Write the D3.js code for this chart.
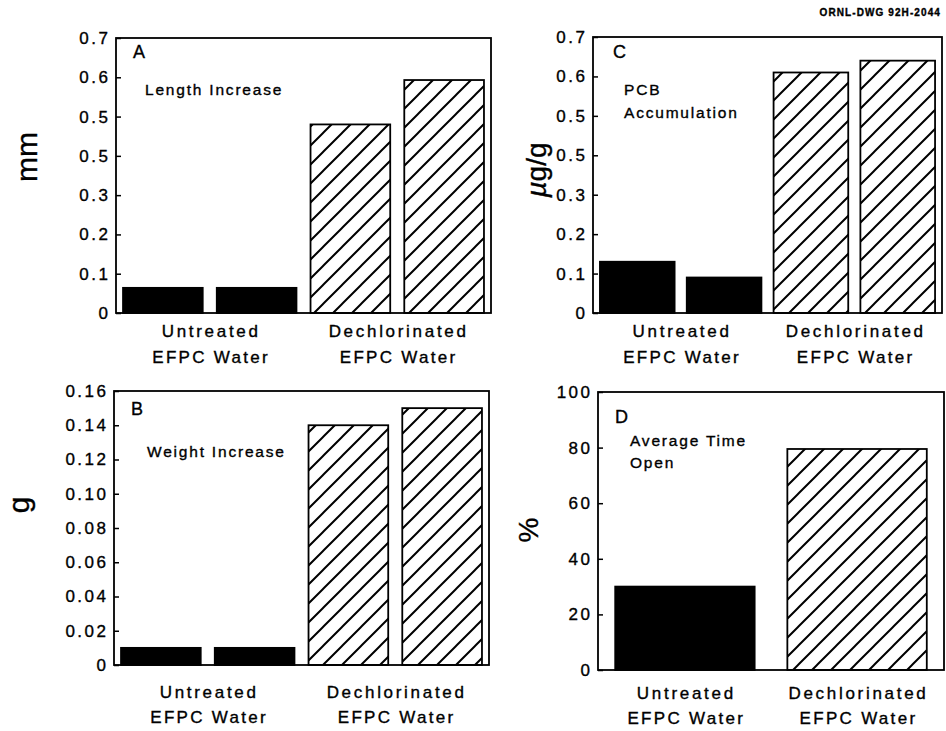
<!DOCTYPE html>
<html><head><meta charset="utf-8">
<script src="https://cdn.jsdelivr.net/npm/d3@7"></script>
<style>
body{margin:0;background:#fff}
svg{display:block}
text{font-family:"Liberation Sans",Arial,Helvetica,sans-serif;fill:#000;stroke:#000;stroke-width:0.35px}
</style>
</head><body>
<svg id="chart" width="946" height="731"></svg>
<script>
// ---------- data ----------
const groupNames = ["Untreated", "Dechlorinated"];
const groupSubLabel = "EFPC Water";
const barGroups4 = [0, 0, 1, 1];
const barGroups2 = [0, 1];
const lengthValues = [0.064, 0.064, 0.48, 0.593];
const weightValues = [0.01, 0.01, 0.14, 0.15];
const pcbValues = [0.13, 0.09, 0.61, 0.64];
const timeOpenValues = [30, 79.5];
const lengthTicks = [0, 0.1, 0.2, 0.3, 0.4, 0.5, 0.6, 0.7];
const lengthTickLabels = ["0", "0.1", "0.2", "0.3", "0.5", "0.5", "0.6", "0.7"];
const weightTicks = [0, 0.02, 0.04, 0.06, 0.08, 0.10, 0.12, 0.14, 0.16];
const weightTickLabels = ["0", "0.02", "0.04", "0.06", "0.08", "0.10", "0.12", "0.14", "0.16"];
const pcbTicks = [0, 0.1, 0.2, 0.3, 0.4, 0.5, 0.6, 0.7];
const pcbTickLabels = ["0", "0.1", "0.2", "0.3", "0.5", "0.5", "0.6", "0.7"];
const timeTicks = [0, 20, 40, 60, 80, 100];
const timeTickLabels = ["0", "20", "40", "60", "80", "100"];
const panelLetters = ["A", "B", "C", "D"];
const panelNotes = [["Length Increase"], ["Weight Increase"], ["PCB", "Accumulation"], ["Average Time", "Open"]];
const yTitles = ["mm", "g", "µg/g", "%"];
const drawingId = "ORNL-DWG 92H-2044";

// ---------- layout ----------
const svg = d3.select("#chart");
const defs = svg.append("defs");
const pat = defs.append("pattern").attr("id", "hatch")
  .attr("patternUnits", "userSpaceOnUse").attr("width", 19).attr("height", 19);
pat.append("path").attr("d", "M-2,2 L2,-2 M0,19 L19,0 M17,21 L21,17")
  .attr("stroke", "#000").attr("stroke-width", 2).attr("fill", "none");

const panels = [
  {values: lengthValues, groups: barGroups4, ticks: lengthTicks, tickLabels: lengthTickLabels, max: 0.7,
   x0: 116, x1: 491, y0: 38, y1: 313, pi: 0.15, po: 0.075,
   title: yTitles[0], tX: 37, tY: 157, tSize: 30,
   letter: panelLetters[0], lX: 133, lY: 58, notes: panelNotes[0], nX: 145, nY: 95, nDy: 23, cDy1: 24, cDy2: 50},
  {values: weightValues, groups: barGroups4, ticks: weightTicks, tickLabels: weightTickLabels, max: 0.16,
   x0: 114, x1: 489, y0: 391, y1: 665, pi: 0.15, po: 0.075,
   title: yTitles[1], tX: 29, tY: 505, tSize: 30,
   letter: panelLetters[1], lX: 131, lY: 415, notes: panelNotes[1], nX: 147, nY: 457, nDy: 23, cDy1: 33, cDy2: 58},
  {values: pcbValues, groups: barGroups4, ticks: pcbTicks, tickLabels: pcbTickLabels, max: 0.7,
   x0: 593, x1: 942, y0: 37, y1: 313, pi: 0.14, po: 0.08,
   title: yTitles[2], tX: 546, tY: 170, tSize: 28,
   letter: panelLetters[2], lX: 613, lY: 58, notes: panelNotes[2], nX: 624, nY: 95, nDy: 23, cDy1: 24, cDy2: 50},
  {values: timeOpenValues, groups: barGroups2, ticks: timeTicks, tickLabels: timeTickLabels, max: 100,
   x0: 598, x1: 944, y0: 392, y1: 670, pi: 0.19, po: 0.1,
   title: yTitles[3], tX: 538, tY: 530, tSize: 28,
   letter: panelLetters[3], lX: 615, lY: 423, notes: panelNotes[3], nX: 630, nY: 446, nDy: 22, cDy1: 29, cDy2: 54}
];

const LS_TICK = 2.5;

panels.forEach(p => {
  const g = svg.append("g");
  const idx = d3.range(p.values.length);
  const x = d3.scaleBand().domain(idx).range([p.x0, p.x1]).paddingInner(p.pi).paddingOuter(p.po);
  const y = d3.scaleLinear().domain([0, p.max]).range([p.y1, p.y0]);

  // bars
  g.selectAll("rect.bar").data(p.values).join("rect").attr("class", "bar")
    .attr("x", (d, i) => x(i)).attr("width", x.bandwidth())
    .attr("y", d => y(d)).attr("height", d => y(0) - y(d))
    .attr("fill", (d, i) => p.groups[i] === 0 ? "#000" : "url(#hatch)")
    .attr("stroke", "#000").attr("stroke-width", 1.8);

  // frame
  g.append("rect").attr("x", p.x0).attr("y", p.y0).attr("width", p.x1 - p.x0).attr("height", p.y1 - p.y0)
    .attr("fill", "none").attr("stroke", "#000").attr("stroke-width", 1.8);

  // y axis
  const ax = g.append("g").attr("transform", `translate(${p.x0},0)`)
    .call(d3.axisLeft(y).tickValues(p.ticks).tickSize(-5).tickPadding(8 - LS_TICK)
      .tickFormat((d, i) => p.tickLabels[i]));
  ax.select(".domain").remove();
  ax.selectAll(".tick line").attr("stroke", "#000").attr("stroke-width", 1.5);
  ax.selectAll(".tick text").attr("font-size", 17).attr("letter-spacing", LS_TICK)
    .attr("font-family", "\"Liberation Sans\",Arial,sans-serif").attr("fill", "#000");

  // y title
  const t = g.append("text").attr("transform", `translate(${p.tX},${p.tY}) rotate(-90)`)
    .attr("text-anchor", "middle").attr("font-size", p.tSize);
  if (p.title.startsWith("µ")) {
    t.append("tspan").attr("font-style", "italic").text("µ");
    t.append("tspan").text(p.title.slice(1));
  } else t.text(p.title);

  // letter and notes
  g.append("text").attr("x", p.lX).attr("y", p.lY).attr("font-size", 18).text(p.letter);
  p.notes.forEach((n, k) => g.append("text").attr("x", p.nX).attr("y", p.nY + k * p.nDy)
    .attr("font-size", 15.5).attr("letter-spacing", 1.8).text(n));

  // category labels
  groupNames.forEach((name, gi) => {
    const members = idx.filter(i => p.groups[i] === gi);
    const cx = d3.mean(members, i => x(i) + x.bandwidth() / 2) + 1.4;
    g.append("text").attr("x", cx).attr("y", p.y1 + p.cDy1).attr("text-anchor", "middle")
      .attr("font-size", 17).attr("letter-spacing", 2.7).text(name);
    g.append("text").attr("x", cx).attr("y", p.y1 + p.cDy2).attr("text-anchor", "middle")
      .attr("font-size", 17).attr("letter-spacing", 2.3).text(groupSubLabel);
  });
});

svg.append("text").attr("x", 941).attr("y", 16).attr("text-anchor", "end")
  .attr("font-size", 10).attr("font-weight", "bold").attr("letter-spacing", 1.1).text(drawingId);
</script>
</body></html>
